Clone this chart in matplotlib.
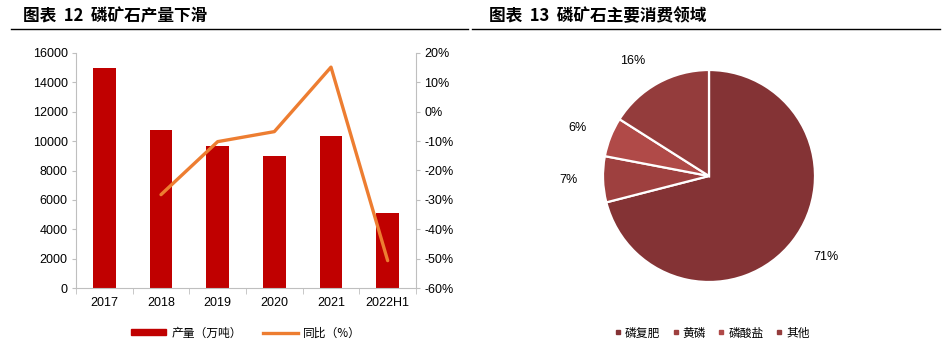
import matplotlib.pyplot as plt
from matplotlib.lines import Line2D
from matplotlib.patches import Patch

plt.rcParams['font.family'] = ['Liberation Sans', 'Noto Sans CJK SC', 'DejaVu Sans']

# Production of phosphate rock (10k tonnes) and year-on-year change (%)
years = ['2017', '2018', '2019', '2020', '2021', '2022H1']
output = [14935, 10730, 9640, 8980, 10340, 5110]
yoy_years = ['2018', '2019', '2020', '2021', '2022H1']
yoy = [-28.2, -10.2, -6.8, 15.1, -50.6]

# Main consumption of phosphate rock
uses = ['磷复肥', '黄磷', '磷酸盐', '其他']
shares = [71, 7, 6, 16]
use_colors = ['#843335', '#9E403F', '#B04A48', '#943C3C']

W, H = 942, 343
fig = plt.figure(figsize=(W / 100, H / 100), dpi=100)
cjk = ['Noto Sans CJK SC', 'DejaVu Sans']
grey = '#BFBFBF'


def px(x0, y0, x1, y1):
    """Convert a pixel box (top-left origin) into figure coordinates."""
    return [x0 / W, 1 - y1 / H, (x1 - x0) / W, (y1 - y0) / H]


# Section titles with rules underneath
fig.text(23 / W, 1 - 16 / H, '图表  12  磷矿石产量下滑', family=cjk,
         fontsize=12, fontweight='bold', va='center')
fig.text(489 / W, 1 - 16 / H, '图表  13  磷矿石主要消费领域', family=cjk,
         fontsize=12, fontweight='bold', va='center')
fig.add_artist(Line2D([11 / W, 468 / W], [1 - 28.5 / H] * 2, color='black', lw=1))
fig.add_artist(Line2D([472 / W, 940 / W], [1 - 28.5 / H] * 2, color='black', lw=1))

# Left: bars with YoY line on a twin axis
ax = fig.add_axes(px(76, 52.7, 416, 288.3))
x = list(range(len(years)))
ax.bar(x, output, width=0.4, color='#C00000', zorder=2)
ax.set_xlim(-0.5, len(years) - 0.5)
ax.set_ylim(0, 16000)
ax.set_yticks(range(0, 16001, 2000))
ax.set_xticks(x)
ax.set_xticklabels(years)
ax.set_xticks([i - 0.5 for i in range(len(years) + 1)], minor=True)
ax.tick_params(axis='x', which='major', length=0, pad=6, labelsize=9)
ax.tick_params(axis='x', which='minor', length=4, color=grey)
ax.tick_params(axis='y', length=3, color=grey, labelsize=9, pad=3)
for side in ['top', 'right']:
    ax.spines[side].set_visible(False)
for side in ['left', 'bottom']:
    ax.spines[side].set_color(grey)

ax2 = ax.twinx()
yoy_x = [years.index(y) for y in yoy_years]
ax2.plot(yoy_x, yoy, color='#ED7D31', lw=2.4, solid_capstyle='round', zorder=3)
ax2.set_ylim(-60, 20)
ax2.set_yticks(range(-60, 21, 10))
ax2.set_yticklabels([f'{v}%' for v in range(-60, 21, 10)])
ax2.tick_params(axis='y', length=3, color=grey, labelsize=9, pad=3)
for side in ['top', 'left', 'bottom']:
    ax2.spines[side].set_visible(False)
ax2.spines['right'].set_color(grey)

handles = [Patch(color='#C00000'), Line2D([0], [0], color='#ED7D31', lw=2.4)]
fig.legend(handles, ['产量（万吨）', '同比（%）'], loc='center',
           bbox_to_anchor=(246 / W, 1 - 333 / H), ncol=2, frameon=False,
           prop={'family': cjk, 'size': 8.5}, handlelength=3.0, handleheight=0.4,
           columnspacing=1.8, handletextpad=0.4)

# Right: pie of consumption areas
r = 106
half = r * 1.4
cx, cy = 709, 176
pax = fig.add_axes(px(cx - half, cy - half, cx + half, cy + half))
pax.pie(shares, colors=use_colors, startangle=90, counterclock=False,
        labels=[f'{s}%' for s in shares], labeldistance=1.24,
        wedgeprops={'edgecolor': 'white', 'linewidth': 1.6},
        textprops={'fontsize': 9})
pax.set_xlim(-1.4, 1.4)
pax.set_ylim(-1.4, 1.4)
pax.set_aspect('equal')
pax.axis('off')

pie_handles = [Line2D([0], [0], marker='s', color='none', markerfacecolor=c,
                      markeredgecolor=c, markersize=2.5) for c in use_colors]
fig.legend(pie_handles, uses, loc='center', bbox_to_anchor=(712 / W, 1 - 333 / H),
           ncol=4, frameon=False, prop={'family': cjk, 'size': 8.5},
           handlelength=0.6, handletextpad=0.3, columnspacing=1.0)

fig.savefig('out.png', dpi=100)
